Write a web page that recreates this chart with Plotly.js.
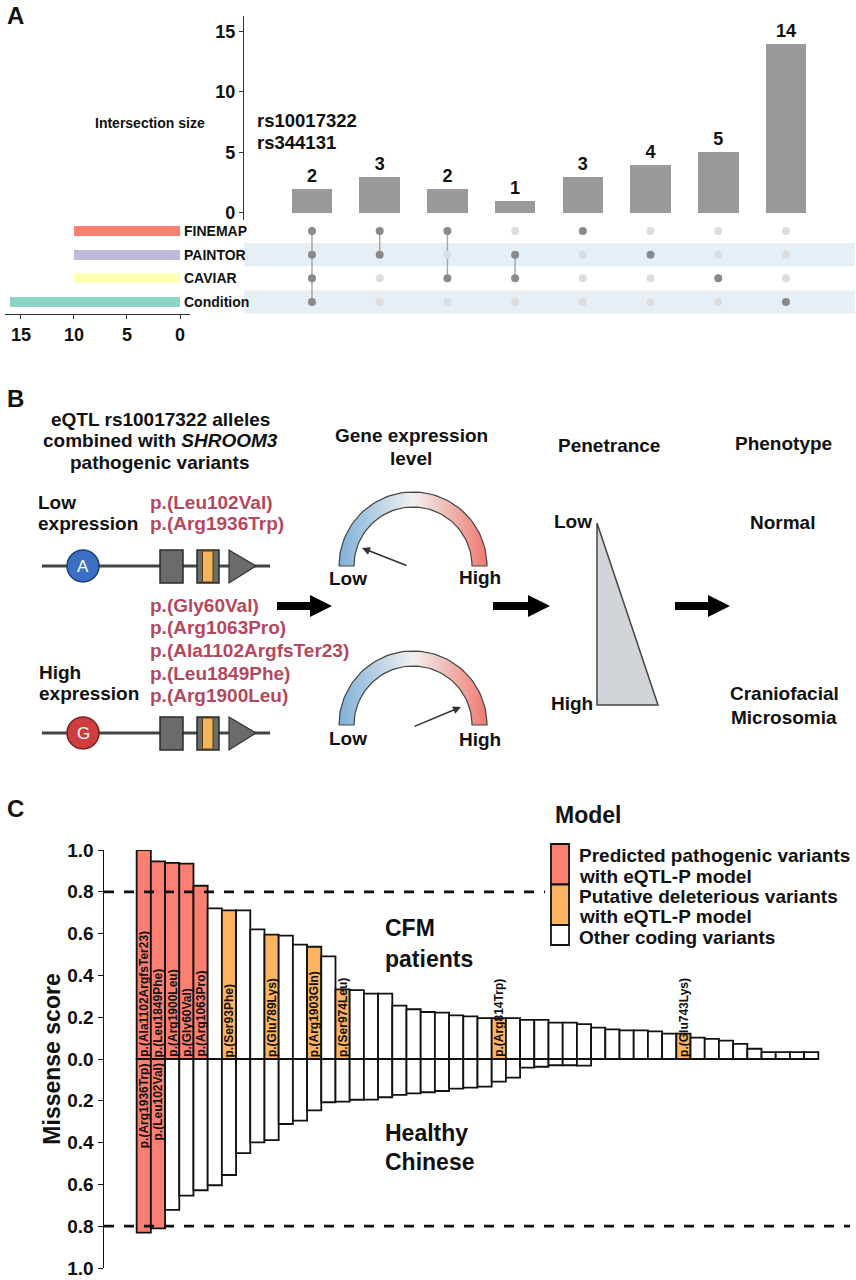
<!DOCTYPE html>
<html><head><meta charset="utf-8">
<script src="https://cdn.plot.ly/plotly-3.0.1.min.js"></script>
<style>html,body{margin:0;padding:0;background:#fff}#chart{width:856px;height:1280px}</style>
</head><body><div id="chart"></div>
<script>
// ---------- Panel A data ----------
const sets = ['FINEMAP', 'PAINTOR', 'CAVIAR', 'Condition'];
const setSizes = [10, 10, 10, 16];
const setColors = ['#FB8072', '#BEBADA', '#FFFFB3', '#8DD3C7'];
const intersectionSizes = [2, 3, 2, 1, 3, 4, 5, 14];
const membFINEMAP   = [1, 1, 1, 0, 1, 0, 0, 0];
const membPAINTOR   = [1, 1, 0, 1, 0, 1, 0, 0];
const membCAVIAR    = [1, 0, 1, 1, 0, 0, 1, 0];
const membCondition = [1, 0, 0, 0, 0, 0, 0, 1];
const intersectionTicks = [0, 5, 10, 15];
const setSizeTicks = [0, 5, 10, 15];
const leadSNPs = ['rs10017322', 'rs344131'];

// ---------- Panel B text ----------
const lowVariants = ['p.(Leu102Val)', 'p.(Arg1936Trp)'];
const highVariants = ['p.(Gly60Val)', 'p.(Arg1063Pro)', 'p.(Ala1102ArgfsTer23)', 'p.(Leu1849Phe)', 'p.(Arg1900Leu)'];

// ---------- Panel C data ----------
const cfmScores = [1.000, 0.946, 0.938, 0.935, 0.829, 0.721, 0.711, 0.711, 0.620, 0.595,
  0.590, 0.547, 0.537, 0.491, 0.333, 0.330, 0.313, 0.313, 0.255, 0.238,
  0.225, 0.222, 0.209, 0.204, 0.196, 0.196, 0.196, 0.187, 0.187, 0.174,
  0.174, 0.167, 0.150, 0.142, 0.137, 0.137, 0.132, 0.121, 0.121, 0.102,
  0.096, 0.088, 0.072, 0.049, 0.033, 0.033, 0.033, 0.033];
const healthyScores = [0.831, 0.810, 0.722, 0.654, 0.628, 0.604, 0.555, 0.450, 0.399, 0.388,
  0.311, 0.295, 0.246, 0.207, 0.204, 0.195, 0.194, 0.183, 0.172, 0.164,
  0.159, 0.153, 0.142, 0.137, 0.132, 0.108, 0.089, 0.041, 0.037, 0.030,
  0.030, 0.032, null, null, null, null, null, null, null, null,
  null, null, null, null, null, null, null, null];
// P = predicted pathogenic, D = putative deleterious, O = other coding
const cfmClass = ['P','P','P','P','P','O','D','O','O','D',
  'O','O','D','O','D','O','O','O','O','O',
  'O','O','O','O','O','D','O','O','O','O',
  'O','O','O','O','O','O','O','O','D','O',
  'O','O','O','O','O','O','O','O'];
const healthyClass = ['P','P','O','O','O','O','O','O','O','O',
  'O','O','O','O','O','O','O','O','O','O',
  'O','O','O','O','O','O','O','O','O','O',
  'O','O','O','O','O','O','O','O','O','O',
  'O','O','O','O','O','O','O','O'];
const cfmLabels = ['p.(Ala1102ArgfsTer23)','p.(Leu1849Phe)','p.(Arg1900Leu)','p.(Gly60Val)','p.(Arg1063Pro)','','p.(Ser93Phe)','','','p.(Glu789Lys)',
  '','','p.(Arg1903Gln)','','p.(Ser974Leu)','','','','','',
  '','','','','','p.(Arg814Trp)','','','','',
  '','','','','','','','','p.(Glu743Lys)','',
  '','','','','','','',''];
const healthyLabels = ['p.(Arg1936Trp)','p.(Leu102Val)'];
const scoreTickVals = [1, 0.8, 0.6, 0.4, 0.2, 0, -0.2, -0.4, -0.6, -0.8, -1];
const scoreTickText = ['1.0','0.8','0.6','0.4','0.2','0.0','0.2','0.4','0.6','0.8','1.0'];
const threshold = 0.8;
const classColor = {P: '#FB8072', D: '#FDB462', O: '#FFFFFF'};
const legendItems = [
  {cls: 'P', lines: ['Predicted pathogenic variants', 'with eQTL-P model']},
  {cls: 'D', lines: ['Putative deleterious variants', 'with eQTL-P model']},
  {cls: 'O', lines: ['Other coding variants']}
];

// ---------- helpers (pixel -> paper) ----------
const W = 856, H = 1280;
const PX = x => x / W;
const PY = y => 1 - y / H;
const FONT = 'Liberation Sans, Arial, Helvetica, sans-serif';
const annotations = [];
const shapes = [];
function txt(x, y, text, size, o) {
  o = o || {};
  annotations.push({
    xref: 'paper', yref: 'paper', x: PX(x), y: PY(y), text: text, showarrow: false,
    xanchor: o.xanchor || 'center', yanchor: 'middle', textangle: o.angle || 0,
    font: {family: FONT, size: size, color: o.color || '#111', weight: o.weight || 'bold'}
  });
}
function rect(x0, y0, x1, y1, fill, lc, lw, layer) {
  shapes.push({type: 'rect', xref: 'paper', yref: 'paper', x0: PX(x0), x1: PX(x1), y0: PY(y1), y1: PY(y0),
    fillcolor: fill, line: {color: lc || 'rgba(0,0,0,0)', width: lw || 0}, layer: layer || 'above'});
}
function circ(cx, cy, r, fill, lc, lw) {
  shapes.push({type: 'circle', xref: 'paper', yref: 'paper', x0: PX(cx - r), x1: PX(cx + r), y0: PY(cy + r), y1: PY(cy - r),
    fillcolor: fill, line: {color: lc, width: lw}});
}
function poly(pts, fill, lc, lw) {
  shapes.push({type: 'path', xref: 'paper', yref: 'paper',
    path: 'M' + pts.map(p => PX(p[0]).toFixed(5) + ',' + PY(p[1]).toFixed(5)).join(' L') + ' Z',
    fillcolor: fill, line: {color: lc || 'rgba(0,0,0,0)', width: lw || 0}});
}
function hline(x0, x1, y, color, width) {
  shapes.push({type: 'line', xref: 'paper', yref: 'paper', x0: PX(x0), x1: PX(x1), y0: PY(y), y1: PY(y), line: {color: color, width: width}});
}
function bigArrow(x0, x1, y) {
  poly([[x0, y - 4], [x1 - 22, y - 4], [x1 - 22, y - 11], [x1, y], [x1 - 22, y + 11], [x1 - 22, y + 4], [x0, y + 4]], '#000');
}

const traces = [];

// ================= PANEL A =================
const memberships = [membFINEMAP, membPAINTOR, membCAVIAR, membCondition];
const rowPos = sets.map((s, i) => sets.length - i);   // FINEMAP top
const cols = intersectionSizes.map((v, i) => i);

traces.push({
  type: 'bar', x: cols, y: intersectionSizes, xaxis: 'x', yaxis: 'y',
  marker: {color: '#999999'}, width: 0.6,
  text: intersectionSizes.map(String), textposition: 'outside', cliponaxis: false,
  textfont: {family: FONT, size: 18, color: '#111', weight: 'bold'},
  hoverinfo: 'skip', showlegend: false
});

sets.forEach((s, i) => {
  if (i % 2 === 1) {
    shapes.push({type: 'rect', xref: 'x domain', yref: 'y3', x0: 0, x1: 1, y0: rowPos[i] - 0.49, y1: rowPos[i] + 0.49,
      fillcolor: '#E6EFF6', line: {width: 0}, layer: 'below'});
  }
});
cols.forEach(c => {
  const active = rowPos.filter((r, i) => memberships[i][c] === 1);
  if (active.length > 1) {
    traces.push({type: 'scatter', mode: 'lines', x: [c, c], y: [Math.min(...active), Math.max(...active)],
      xaxis: 'x', yaxis: 'y3', line: {color: '#A8A8A8', width: 1.5}, hoverinfo: 'skip', showlegend: false});
  }
});
const dotX = [], dotY = [], dotC = [];
cols.forEach(c => sets.forEach((s, i) => {
  dotX.push(c); dotY.push(rowPos[i]); dotC.push(memberships[i][c] ? '#8A8A8A' : '#DDDDDD');
}));
traces.push({type: 'scatter', mode: 'markers', x: dotX, y: dotY, xaxis: 'x', yaxis: 'y3',
  marker: {color: dotC, size: 8}, hoverinfo: 'skip', showlegend: false});
traces.push({type: 'bar', orientation: 'h', x: setSizes, y: rowPos, xaxis: 'x4', yaxis: 'y3',
  marker: {color: setColors}, width: 0.42, hoverinfo: 'skip', showlegend: false});

sets.forEach((s, i) => {
  annotations.push({xref: 'paper', yref: 'y3', x: PX(182), y: rowPos[i], text: s, showarrow: false,
    xanchor: 'left', yanchor: 'middle', font: {family: FONT, size: 14, color: '#111', weight: 'bold'}});
});
txt(16, 15, 'A', 24);
txt(150, 123, 'Intersection size', 14);
leadSNPs.forEach((t, i) => txt(255, 120 + i * 23, t, 18.5, {xanchor: 'left'}));

// ================= PANEL B =================
txt(16, 398, 'B', 24);
txt(160, 419, 'eQTL rs10017322 alleles', 19);
txt(160, 441, 'combined with <i>SHROOM3</i>', 19);
txt(160, 462, 'pathogenic variants', 19);
txt(411, 436, 'Gene expression', 19);
txt(411, 458, 'level', 19);
txt(609, 445, 'Penetrance', 19);
txt(783, 443, 'Phenotype', 19);
txt(36, 502, 'Low', 19, {xanchor: 'left'});
txt(36, 523, 'expression', 19, {xanchor: 'left'});
txt(37, 672, 'High', 19, {xanchor: 'left'});
txt(37, 693, 'expression', 19, {xanchor: 'left'});
const RED = '#B5485D';
lowVariants.forEach((t, i) => txt(148, 502 + i * 21.5, t, 19, {xanchor: 'left', color: RED}));
highVariants.forEach((t, i) => txt(148, 605 + i * 22.7, t, 19, {xanchor: 'left', color: RED}));

function gene(y, alleleColor, alleleLine, allele) {
  hline(42, 270, y, '#444', 3);
  circ(83, y, 16, alleleColor, alleleLine, 1.5);
  rect(160, y - 16, 183, y + 17, '#6B6B6B', '#2B2B2B', 1.5);
  rect(197, y - 16, 219, y + 17, '#6B6B6B', '#2B2B2B', 1.5);
  rect(202.5, y - 15, 213, y + 16, '#F2B55C', '#5A3A10', 1);
  poly([[229, y - 16], [229, y + 17], [256, y]], '#6B6B6B', '#333', 1.2);
  txt(83, y, allele, 17, {color: '#fff', weight: 'normal'});
}
gene(566, '#3A6FC4', '#1E3C78', 'A');
gene(733, '#CF3E3E', '#7A2222', 'G');

bigArrow(277, 332, 606);
bigArrow(493, 550, 606);
bigArrow(675, 730, 606);

function gauge(cx, cy) {
  const rO = 74, rI = 59, n = 60, xs = [], ys = [];
  for (let k = 0; k <= n; k++) { const t = Math.PI * (1 - k / n); xs.push(cx + rO * Math.cos(t)); ys.push(cy - rO * Math.sin(t)); }
  for (let k = 0; k <= n; k++) { const t = Math.PI * k / n; xs.push(cx + rI * Math.cos(t)); ys.push(cy - rI * Math.sin(t)); }
  xs.push(xs[0]); ys.push(ys[0]);
  traces.push({type: 'scatter', mode: 'lines', x: xs, y: ys, xaxis: 'x5', yaxis: 'y5', fill: 'toself',
    fillgradient: {type: 'horizontal', colorscale: [[0, '#7FB0D8'], [0.5, '#F1F1F1'], [1, '#EF7A70']]},
    line: {color: '#444', width: 1.2}, hoverinfo: 'skip', showlegend: false});
}
gauge(413, 566);
gauge(413, 725);
function needle(hx, hy, tx, ty) {
  annotations.push({xref: 'paper', yref: 'paper', x: PX(hx), y: PY(hy), ax: tx - hx, ay: ty - hy, text: '',
    showarrow: true, arrowhead: 2, arrowsize: 1, arrowwidth: 1.6, arrowcolor: '#333', standoff: 0});
}
needle(362, 548, 408, 566);
needle(461, 707, 413, 727);
txt(348, 578, 'Low', 19); txt(480, 577, 'High', 19);
txt(348, 738, 'Low', 19); txt(480, 739, 'High', 19);

poly([[597, 523], [597, 705], [658, 705]], '#D1D4D8', '#444', 1.5);
txt(573, 521, 'Low', 19); txt(572, 703, 'High', 19);
txt(782, 522, 'Normal', 19);
txt(784, 693, 'Craniofacial', 19);
txt(784, 717, 'Microsomia', 19);

// ================= PANEL C =================
const idx = cfmScores.map((v, i) => i + 1);
traces.push({type: 'bar', x: idx, y: cfmScores, xaxis: 'x2', yaxis: 'y2',
  marker: {color: cfmClass.map(c => classColor[c]), line: {color: '#111', width: 1.8}},
  hoverinfo: 'skip', showlegend: false});
traces.push({type: 'bar', x: idx, y: healthyScores.map(v => v == null ? null : -v), xaxis: 'x2', yaxis: 'y2',
  marker: {color: healthyClass.map(c => classColor[c]), line: {color: '#111', width: 1.8}},
  hoverinfo: 'skip', showlegend: false});

shapes.push({type: 'line', xref: 'x2', yref: 'y2', x0: 0.5, x1: cfmScores.length + 0.5, y0: 0, y1: 0, line: {color: '#111', width: 1.5}});
[threshold, -threshold].forEach(t => shapes.push({type: 'line', xref: 'paper', yref: 'y2', x0: PX(104), x1: PX(850), y0: t, y1: t,
  line: {color: '#111', width: 2.8, dash: '10px,10px'}}));

cfmLabels.forEach((t, i) => {
  if (!t) return;
  annotations.push({xref: 'x2', yref: 'y2', x: i + 1, y: 0, text: t, textangle: -90, showarrow: false,
    xanchor: 'center', yanchor: 'bottom', yshift: 1, borderpad: 0,
    font: {family: FONT, size: 12, color: '#111', weight: 'bold'}});
});
healthyLabels.forEach((t, i) => {
  if (!t) return;
  annotations.push({xref: 'x2', yref: 'y2', x: i + 1, y: 0, text: t, textangle: -90, showarrow: false,
    xanchor: 'center', yanchor: 'top', yshift: -3, borderpad: 0,
    font: {family: FONT, size: 12, color: '#111', weight: 'bold'}});
});

txt(16, 808, 'C', 24);
txt(383, 928, 'CFM', 23, {xanchor: 'left'});
txt(383, 959, 'patients', 23, {xanchor: 'left'});
txt(383, 1133, 'Healthy', 23, {xanchor: 'left'});
txt(383, 1162, 'Chinese', 23, {xanchor: 'left'});

// legend
rect(545, 836, 856, 950, '#FFFFFF');
txt(553, 815, 'Model', 23, {xanchor: 'left'});
let ly = 844;
const lineYs = [855, 876, 896, 916, 937];
let li = 0;
legendItems.forEach(it => {
  const h = it.lines.length === 2 ? 40.5 : 20;
  rect(551, ly, 569, ly + h, classColor[it.cls], '#111', 1.8);
  ly += h;
  it.lines.forEach(l => { txt(577, lineYs[li++], l, 19, {xanchor: 'left'}); });
});

const axFont = {family: FONT, size: 18, color: '#111', weight: 'bold'};
const layout = {
  width: W, height: H, margin: {l: 0, r: 0, t: 0, b: 0},
  paper_bgcolor: '#fff', plot_bgcolor: 'rgba(0,0,0,0)',
  showlegend: false, barmode: 'relative', bargap: 0,
  font: {family: FONT, color: '#111'},
  xaxis: {domain: [PX(244), PX(855)], range: [-1.004, 8.02], anchor: 'y', visible: false, fixedrange: true},
  yaxis: {domain: [PY(220), PY(16)], range: [-0.58, 16.28], anchor: 'x', showline: true, linecolor: '#333', linewidth: 1.2,
    ticks: 'outside', ticklen: 4, tickcolor: '#333', tickvals: intersectionTicks, tickfont: axFont,
    showgrid: false, zeroline: false, fixedrange: true},
  yaxis3: {domain: [PY(314), PY(220)], range: [0.493, 4.465], anchor: 'x', visible: false, fixedrange: true},
  xaxis4: {domain: [PX(5), PX(190)], range: [16.5, -0.94], anchor: 'y3', showline: true, linecolor: '#333', linewidth: 1.2,
    ticks: 'outside', ticklen: 4, tickcolor: '#333', tickvals: setSizeTicks, tickfont: axFont,
    showgrid: false, zeroline: false, fixedrange: true},
  xaxis2: {domain: [PX(104), PX(850)], range: [-1.80, 50.73], anchor: 'y2', visible: false, fixedrange: true},
  yaxis2: {domain: [PY(1268), PY(850)], range: [-1.0, 1.0], anchor: 'x2', showline: true, linecolor: '#111', linewidth: 1.5,
    ticks: 'outside', ticklen: 5, tickcolor: '#111', tickvals: scoreTickVals, ticktext: scoreTickText,
    tickfont: {family: FONT, size: 19, color: '#111', weight: 'bold'}, showgrid: false, zeroline: false, fixedrange: true,
    title: {text: 'Missense score', font: {family: FONT, size: 23, color: '#111', weight: 'bold'}, standoff: 0}},
  xaxis5: {domain: [0, 1], range: [0, W], anchor: 'y5', visible: false, fixedrange: true},
  yaxis5: {domain: [0, 1], range: [H, 0], anchor: 'x5', visible: false, fixedrange: true},
  shapes: shapes, annotations: annotations
};
Plotly.newPlot('chart', traces, layout, {staticPlot: true, displayModeBar: false});
</script>
</body></html>
